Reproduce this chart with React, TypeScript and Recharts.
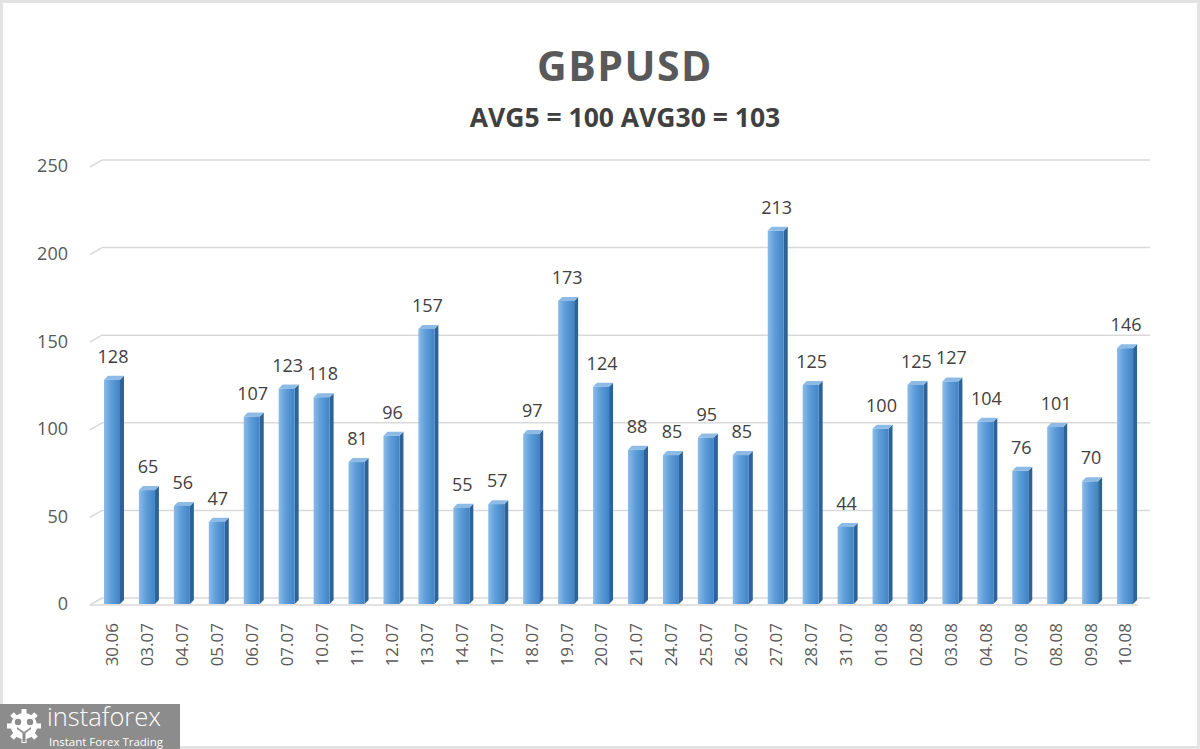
import React from 'react';
import { BarChart, Bar, XAxis, YAxis, CartesianGrid, LabelList } from 'recharts';

const DATES = [
  '30.06', '03.07', '04.07', '05.07', '06.07', '07.07', '10.07', '11.07', '12.07', '13.07',
  '14.07', '17.07', '18.07', '19.07', '20.07', '21.07', '24.07', '25.07', '26.07', '27.07',
  '28.07', '31.07', '01.08', '02.08', '03.08', '04.08', '07.08', '08.08', '09.08', '10.08',
];

const RANGES = [
  128, 65, 56, 47, 107, 123, 118, 81, 96, 157,
  55, 57, 97, 173, 124, 88, 85, 95, 85, 213,
  125, 44, 100, 125, 127, 104, 76, 101, 70, 146,
];

const Y_TICKS = [0, 50, 100, 150, 200, 250];

const TITLE = 'GBPUSD';
const SUBTITLE = 'AVG5 = 100 AVG30 = 103';

const FONT = '"Open Sans", "Noto Sans", sans-serif';
const TEXT = '#595959';

const data = DATES.map((d, i) => ({ date: d, value: RANGES[i] }));

// 3D-looking column: front face, darker right side, lighter top
function Bar3D(props: any) {
  const { x, y, width, height } = props;
  if (height <= 0) return null;
  const d = 4;
  return (
    <g>
      <polygon
        points={`${x + width},${y} ${x + width + d},${y - d} ${x + width + d},${y + height - d} ${x + width},${y + height}`}
        fill="#2d6398"
      />
      <polygon
        points={`${x},${y} ${x + d},${y - d} ${x + width + d},${y - d} ${x + width},${y}`}
        fill="#8dbbe6"
      />
      <rect x={x} y={y} width={width} height={height} fill="url(#barFront)" />
    </g>
  );
}

function GridLine3D(props: any) {
  const { x1, x2, y1 } = props;
  const y = y1;
  return (
    <g stroke="#d9d9d9" strokeWidth={1.5} fill="none">
      <line x1={x1 - 5} y1={y + 1} x2={x1 + 7} y2={y - 6} />
      <line x1={x1 + 7} y1={y - 6} x2={x2 + 7} y2={y - 6} />
      {Math.abs(y - 604) < 2 && <line x1={x1 - 5} y1={y + 1} x2={x2 - 5} y2={y + 1} />}
    </g>
  );
}

function DateTick(props: any) {
  const { x, y, payload } = props;
  return (
    <text
      transform={`translate(${x}, ${y + 19}) rotate(-90)`}
      textAnchor="end"
      dy="0.35em"
      fontSize={17}
      fontFamily={FONT}
      fill={TEXT}
    >
      {payload.value}
    </text>
  );
}

function ValueLabel(props: any) {
  const { x, y, width, value } = props;
  return (
    <text
      x={x + width / 2 + 1}
      y={y - 17}
      textAnchor="middle"
      fontSize={18}
      fontFamily={FONT}
      fill="#404040"
    >
      {value}
    </text>
  );
}

function Logo() {
  return (
    <div
      style={{
        position: 'absolute',
        left: 0,
        top: 704,
        width: 180,
        height: 45,
        background: '#8c8c8c',
        color: '#fff',
        fontFamily: FONT,
      }}
    >
      <svg width={36} height={36} style={{ position: 'absolute', left: 6, top: 4 }} viewBox="0 0 36 36">
        <g fill="#fff">
          <circle cx={18} cy={18} r={13} />
          {Array.from({ length: 8 }).map((_, i) => (
            <rect key={i} x={15.5} y={1} width={5} height={7} transform={`rotate(${i * 45} 18 18)`} />
          ))}
        </g>
        <g fill="#8c8c8c">
          <circle cx={12} cy={14} r={3.2} />
          <circle cx={24} cy={14} r={3.2} />
          <path d="M11 19 L18 24 L25 19 L25 21 L19.5 25 L19.5 34 L16.5 34 L16.5 25 L11 21 Z" />
        </g>
      </svg>
      <div style={{ position: 'absolute', left: 47, top: -2, fontSize: 25.5, lineHeight: '29px', fontWeight: 300 }}>
        instaforex
      </div>
      <div style={{ position: 'absolute', left: 49, top: 31, fontSize: 11.5, lineHeight: '13px' }}>
        Instant Forex Trading
      </div>
    </div>
  );
}

export default function App() {
  return (
    <div
      style={{
        position: 'absolute',
        left: 0,
        top: 0,
        width: 1200,
        height: 749,
        background: '#fff',
        border: '3px solid #e3e3e3',
        boxSizing: 'border-box',
      }}
    >
      <svg width={0} height={0} style={{ position: 'absolute' }}>
        <defs>
          <linearGradient id="barFront" x1="0" y1="0" x2="1" y2="0">
            <stop offset="0%" stopColor="#8bbbe8" />
            <stop offset="45%" stopColor="#5d9dd9" />
            <stop offset="100%" stopColor="#4283c5" />
          </linearGradient>
        </defs>
      </svg>
      <div
        style={{
          position: 'absolute',
          left: -3,
          top: 34,
          width: 1250,
          textAlign: 'center',
          fontFamily: FONT,
          fontWeight: 700,
          fontSize: 41,
          letterSpacing: 1.5,
          color: TEXT,
        }}
      >
        {TITLE}
      </div>
      <div
        style={{
          position: 'absolute',
          left: -3,
          top: 96,
          width: 1250,
          textAlign: 'center',
          fontFamily: FONT,
          fontWeight: 700,
          fontSize: 26.5,
          color: '#404040',
        }}
      >
        {SUBTITLE}
      </div>
      <div style={{ position: 'absolute', left: -3, top: -3, width: 1200, height: 749, overflow: 'hidden' }}>
        <BarChart
          width={1200}
          height={749}
          data={data}
          margin={{ top: 166, right: 57, bottom: 65, left: 35 }}
          barSize={16}
        >
          <CartesianGrid vertical={false} horizontal={(p: any) => <GridLine3D key={p.key} {...p} />} />
          <XAxis
            dataKey="date"
            axisLine={false}
            tickLine={false}
            tickSize={0}
            tickMargin={0}
            height={80}
            interval={0}
            tick={<DateTick />}
          />
          <YAxis
            domain={[0, 250]}
            ticks={Y_TICKS}
            width={60}
            axisLine={false}
            tickLine={false}
            tickSize={0}
            tickMargin={27}
            tick={{ fontSize: 18, fontFamily: FONT, fill: TEXT }}
          />
          <Bar dataKey="value" isAnimationActive={false} shape={<Bar3D />}>
            <LabelList dataKey="value" content={<ValueLabel />} />
          </Bar>
        </BarChart>
      </div>
      <div style={{ position: 'absolute', left: -3, top: -3 }}>
        <Logo />
      </div>
    </div>
  );
}
